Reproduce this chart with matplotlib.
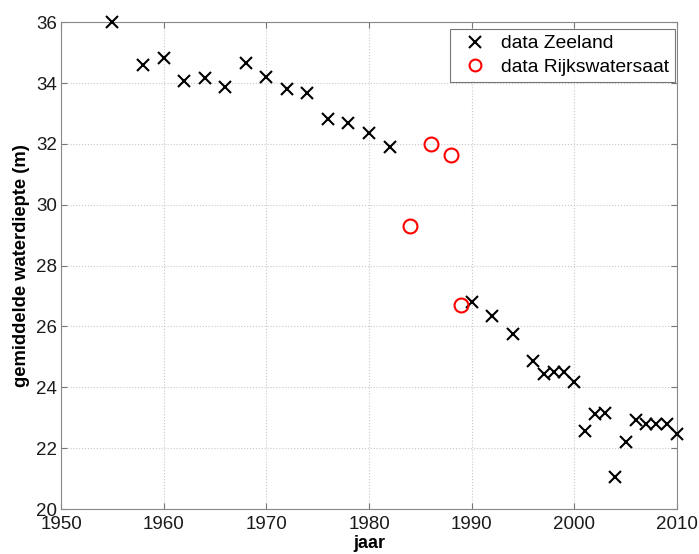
import matplotlib
matplotlib.use('Agg')
import matplotlib.pyplot as plt

plt.rcParams['font.family'] = ['Liberation Sans', 'DejaVu Sans']

# data Zeeland
zeeland_jaar = [1955, 1958, 1960, 1962, 1964, 1966, 1968, 1970, 1972, 1974, 1976, 1978,
                1980, 1982, 1990, 1992, 1994, 1996, 1997, 1998, 1999, 2000, 2001, 2002,
                2003, 2004, 2005, 2006, 2007, 2008, 2009, 2010]
zeeland_diepte = [36.0, 34.58, 34.82, 34.05, 34.18, 33.87, 34.66, 34.19, 33.81, 33.66, 32.81, 32.70,
                  32.37, 31.91, 26.79, 26.35, 25.76, 24.85, 24.45, 24.50, 24.50, 24.17, 22.55, 23.13,
                  23.17, 21.05, 22.21, 22.93, 22.80, 22.78, 22.78, 22.45]

# data Rijkswatersaat
rws_jaar = [1984, 1986, 1988, 1989]
rws_diepte = [29.30, 32.0, 31.64, 26.71]

fig = plt.figure(figsize=(6.99, 5.54), dpi=100)
ax = fig.add_axes([0.0873, 0.0812, 0.8812, 0.8788])

ax.plot(zeeland_jaar, zeeland_diepte, 'x', color='black', markersize=9, markeredgewidth=1.5,
        linestyle='none', label='data Zeeland', clip_on=False, zorder=3)
ax.plot(rws_jaar, rws_diepte, 'o', markerfacecolor='none', markeredgecolor='red', markersize=10,
        markeredgewidth=1.5, linestyle='none', label='data Rijkswatersaat', clip_on=False, zorder=3)

ax.set_xlim(1950, 2010)
ax.set_ylim(20, 36)
ax.set_xticks(range(1950, 2011, 10))
ax.set_yticks(range(20, 37, 2))
ax.grid(True, linestyle=':', color='#c8c8c8', linewidth=0.8)
ax.tick_params(direction='in', top=True, right=True, labelsize=13.5, length=4,
               color='#777777', labelcolor='#1a1a1a')
ax.tick_params(axis='y', pad=3)
ax.tick_params(axis='x', pad=5)
for sp in ax.spines.values():
    sp.set_color('#888888')

ax.set_xlabel('jaar', fontsize=13, fontweight='bold', labelpad=1.5)
ax.set_ylabel('gemiddelde waterdiepte (m)', fontsize=13.2, fontweight='bold', labelpad=4)

leg = ax.legend(loc='upper right', bbox_to_anchor=(0.9968, 0.9856), borderaxespad=0,
                fontsize=13.9, frameon=True, fancybox=False, edgecolor='#555555',
                handletextpad=0.35, borderpad=0.3, labelspacing=0.3, handlelength=2.0)
leg.get_frame().set_linewidth(0.8)
for h in leg.legend_handles:
    h.set_markersize(8.5)

fig.savefig('out.png', dpi=100, facecolor='white')
